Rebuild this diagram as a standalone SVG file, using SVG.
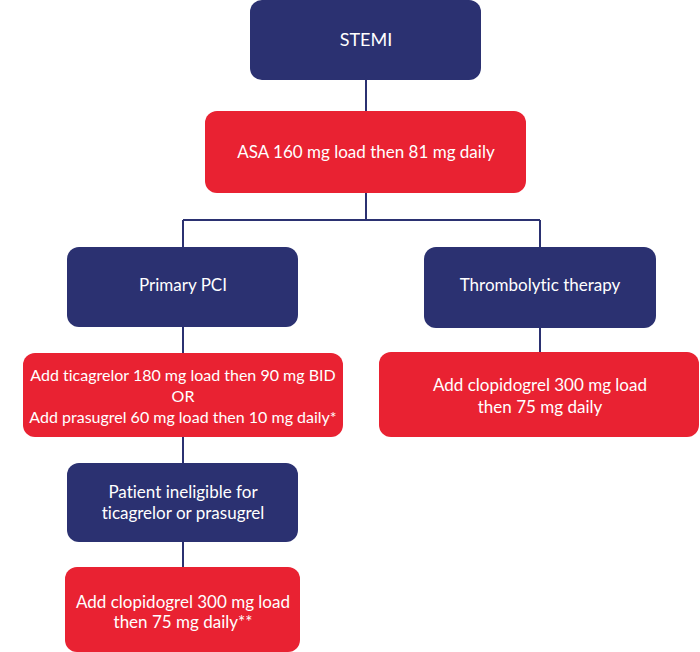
<svg xmlns="http://www.w3.org/2000/svg" width="700" height="652" viewBox="0 0 700 652">
<style>
.n rect{fill:#2b3171}
.r rect{fill:#e92232}
text{font-family:Lato,"Noto Sans",sans-serif;font-size:17px;fill:#fff;text-anchor:middle;font-variant-ligatures:none;font-feature-settings:"liga" 0}
#ticag text{font-size:16px}
.c{stroke:#2b3171;stroke-width:2;fill:none}
</style>
<rect width="700" height="652" fill="#fff"/>
<g id="connectors" class="c">
<path d="M366 80V111M366 193V220M183 220H540M183 220V247M540 220V247M183 327V353M540 328V352M183 437V463M183 542V567"/>
</g>
<g id="stemi" class="n"><rect x="250" y="0" width="231" height="80" rx="12"/><text x="366" y="46" style="font-size:18px">STEMI</text></g>
<g id="asa" class="r"><rect x="205" y="111" width="321" height="82" rx="12"/><text x="366" y="158">ASA 160 mg load then 81 mg daily</text></g>
<g id="pci" class="n"><rect x="67" y="247" width="231" height="80" rx="12"/><text x="183" y="291">Primary PCI</text></g>
<g id="thrombo" class="n"><rect x="424" y="247" width="232" height="81" rx="12"/><text x="540" y="291">Thrombolytic therapy</text></g>
<g id="ticag" class="r"><rect x="23" y="353" width="320" height="84" rx="12"/><text x="183" y="381">Add ticagrelor 180 mg load then 90 mg BID</text><text x="183" y="402">OR</text><text x="183" y="423">Add prasugrel 60 mg load then 10 mg daily*</text></g>
<g id="clopi1" class="r"><rect x="379" y="352" width="320" height="85" rx="12"/><text x="540" y="391">Add clopidogrel 300 mg load</text><text x="540" y="413">then 75 mg daily</text></g>
<g id="inelig" class="n"><rect x="67" y="463" width="231" height="79" rx="12"/><text x="183" y="498">Patient ineligible for</text><text x="183" y="519">ticagrelor or prasugrel</text></g>
<g id="clopi2" class="r"><rect x="65" y="567" width="235" height="85" rx="12"/><text x="183" y="608">Add clopidogrel 300 mg load</text><text x="183" y="628">then 75 mg daily**</text></g>
</svg>
